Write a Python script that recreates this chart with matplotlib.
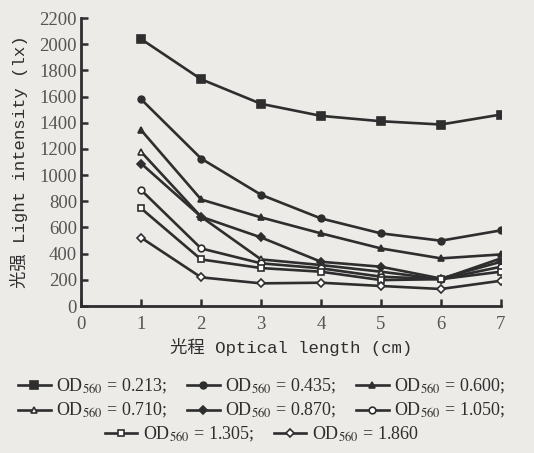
import numpy as np
import matplotlib
matplotlib.use("Agg")
import matplotlib.pyplot as plt

# optical length (cm)
path_cm = [1, 2, 3, 4, 5, 6, 7]

# light intensity (lx) for each culture density
od_labels = ["0.213", "0.435", "0.600", "0.710", "0.870", "1.050", "1.305", "1.860"]
lux_0213 = [2040, 1733, 1545, 1453, 1412, 1387, 1463]
lux_0435 = [1580, 1127, 850, 669, 555, 499, 578]
lux_0600 = [1344, 814, 677, 555, 440, 364, 394]
lux_0710 = [1178, 682, 356, 313, 262, 205, 364]
lux_0870 = [1089, 682, 524, 338, 300, 210, 338]
lux_1050 = [886, 440, 326, 288, 224, 205, 300]
lux_1305 = [746, 356, 290, 262, 198, 205, 262]
lux_1860 = [522, 219, 173, 178, 153, 130, 193]

x_ticks = [0, 1, 2, 3, 4, 5, 6, 7]
y_ticks = list(range(0, 2201, 200))

series = [lux_0213, lux_0435, lux_0600, lux_0710,
          lux_0870, lux_1050, lux_1305, lux_1860]
# (marker, filled?)
styles = [("s", True), ("o", True), ("^", True), ("^", False),
          ("D", True), ("o", False), ("s", False), ("D", False)]

ink = "#2e2e2e"
paper = "#ecebe7"

plt.rcParams["mathtext.fontset"] = "stix"

fig = plt.figure(figsize=(5.34, 4.53), dpi=100, facecolor=paper)
ax = fig.add_axes([0.152, 0.3245, 0.786, 0.6355], facecolor=paper)

handles = []
for vals, (mk, filled) in zip(series, styles):
    ms = 4.8 if mk != "D" else 4.2
    if mk == "s" and filled:
        ms = 5.5
    h, = ax.plot(path_cm, vals, color=ink, lw=1.9, marker=mk, markersize=ms,
                 markerfacecolor=ink if filled else "white",
                 markeredgecolor=ink, markeredgewidth=1.2)
    handles.append(h)

ax.set_xlim(0, 7)
ax.set_ylim(0, 2200)
ax.set_xticks(x_ticks)
ax.set_yticks(y_ticks)
for s in ["top", "right"]:
    ax.spines[s].set_visible(False)
for s in ["left", "bottom"]:
    ax.spines[s].set_linewidth(2.0)
    ax.spines[s].set_color(ink)
ax.tick_params(direction="in", length=5, width=1.8, color=ink,
               labelcolor="#555555", labelsize=13.5)
ax.tick_params(axis="x", pad=7)
ax.tick_params(axis="y", pad=3)
for lab in ax.get_xticklabels() + ax.get_yticklabels():
    lab.set_family("Liberation Serif")

mono = ["Liberation Mono", "Noto Sans CJK SC"]
ax.set_xlabel("光程 Optical length (cm)", family=mono, fontsize=12.5,
              color=ink, labelpad=4)
ax.set_ylabel("光强 Light intensity (lx)", family=mono, fontsize=12.5,
              color=ink, labelpad=8)

# legend in three centred rows
serif = ["Liberation Serif", "Noto Sans CJK SC"]
labels = []
for i, od in enumerate(od_labels):
    end = ";" if i < len(od_labels) - 1 else ""
    labels.append("OD$_{560}$ = " + od + end)

rows = [(range(0, 3), 0.148), (range(3, 6), 0.093), (range(6, 8), 0.042)]
for idx, yc in rows:
    leg = fig.legend([handles[i] for i in idx], [labels[i] for i in idx],
                     loc="center", bbox_to_anchor=(0.49, yc), ncol=len(idx),
                     frameon=False, handlelength=1.8, handletextpad=0.3,
                     columnspacing=1.1, borderpad=0, borderaxespad=0,
                     prop={"family": serif, "size": 13})
    for t in leg.get_texts():
        t.set_color(ink)

fig.savefig("out.png", dpi=100, facecolor=paper)
